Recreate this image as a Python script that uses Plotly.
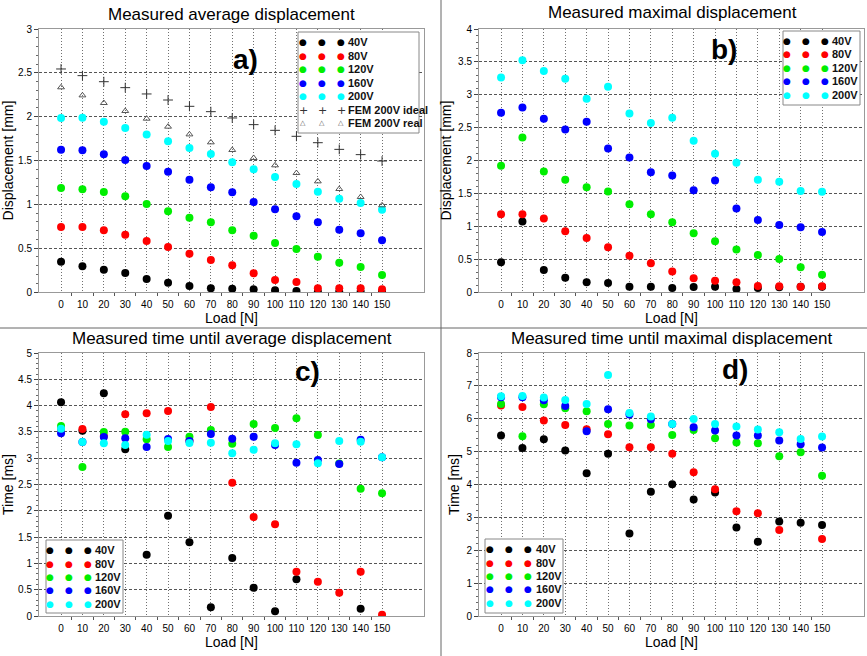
import plotly.graph_objects as go

W, H = 867, 656
load = [0, 10, 20, 30, 40, 50, 60, 70, 80, 90, 100, 110, 120, 130, 140, 150]
voltages = ["40V", "80V", "120V", "160V", "200V"]
colors = ["#000000", "#ff0000", "#00ee00", "#0000ff", "#00ffff"]

# a) Measured average displacement [mm]
avg_40 = [0.346, 0.293, 0.255, 0.217, 0.148, 0.106, 0.068, 0.042, 0.038, 0.030, 0.019, 0.011, 0.005, 0.004, 0.004, 0.004]
avg_80 = [0.741, 0.741, 0.703, 0.654, 0.582, 0.513, 0.437, 0.365, 0.304, 0.213, 0.137, 0.114, 0.042, 0.042, 0.042, 0.030]
avg_120 = [1.186, 1.171, 1.141, 1.091, 1.004, 0.920, 0.848, 0.795, 0.703, 0.643, 0.559, 0.490, 0.403, 0.335, 0.285, 0.194]
avg_160 = [1.624, 1.616, 1.570, 1.506, 1.437, 1.373, 1.281, 1.194, 1.137, 1.027, 0.943, 0.863, 0.795, 0.711, 0.669, 0.589]
avg_200 = [1.985, 1.989, 1.943, 1.871, 1.798, 1.719, 1.643, 1.574, 1.479, 1.399, 1.312, 1.232, 1.144, 1.065, 1.015, 0.939]
fem_ideal = [2.544, 2.468, 2.399, 2.331, 2.259, 2.190, 2.118, 2.057, 1.985, 1.909, 1.844, 1.776, 1.703, 1.627, 1.567, 1.494]
fem_real = [2.335, 2.243, 2.156, 2.065, 1.977, 1.886, 1.798, 1.707, 1.620, 1.529, 1.445, 1.357, 1.262, 1.175, 1.084, 0.989]

# b) Measured maximal displacement [mm]
max_40 = [0.452, 1.071, 0.335, 0.218, 0.147, 0.137, 0.081, 0.081, 0.061, 0.076, 0.081, 0.046, 0.061, 0.071, 0.081, 0.081]
max_80 = [1.183, 1.183, 1.117, 0.924, 0.822, 0.680, 0.553, 0.437, 0.310, 0.208, 0.173, 0.147, 0.091, 0.086, 0.081, 0.086]
max_120 = [1.919, 2.350, 1.832, 1.706, 1.594, 1.528, 1.335, 1.183, 1.061, 0.893, 0.772, 0.645, 0.563, 0.503, 0.376, 0.264]
max_160 = [2.726, 2.807, 2.635, 2.472, 2.589, 2.183, 2.046, 1.822, 1.772, 1.548, 1.695, 1.269, 1.096, 1.020, 0.985, 0.914]
max_200 = [3.264, 3.523, 3.360, 3.244, 2.939, 3.122, 2.716, 2.569, 2.650, 2.299, 2.102, 1.964, 1.706, 1.675, 1.538, 1.523]

# c) Measured time until average displacement [ms]
tavg_40 = [4.062, 3.523, 4.233, 3.169, 1.166, 1.907, 1.400, 0.165, 1.103, 0.539, 0.089, 0.697, None, None, 0.139, None]
tavg_80 = [3.560, 3.555, 3.420, 3.834, 3.853, 3.897, 3.330, 3.973, 2.535, 1.882, 1.743, 0.843, 0.653, 0.444, 0.843, 0.025]
tavg_120 = [3.612, 2.833, 3.498, 3.504, 3.359, 3.213, 3.409, 3.536, 3.276, 3.650, 3.574, 3.758, 3.441, 2.900, 2.421, 2.332]
tavg_160 = [3.473, 3.310, 3.403, 3.378, 3.213, 3.365, 3.327, 3.460, 3.371, 3.409, 3.251, 2.915, 2.966, 2.890, 3.352, 3.016]
tavg_200 = [3.561, 3.308, 3.283, 3.251, 3.447, 3.327, 3.289, 3.295, 3.093, 3.162, 3.283, 3.264, 2.902, 3.327, 3.314, 3.016]

# d) Measured time until maximal displacement [ms]
tmax_40 = [5.489, 5.114, 5.377, 5.033, 4.344, 4.932, 2.511, 3.777, 4.010, 3.544, 3.757, 2.694, 2.258, 2.876, 2.835, 2.765]
tmax_80 = [6.400, 6.359, 5.944, 5.813, 5.681, 5.529, 5.134, 5.134, 4.932, 4.375, 3.858, 3.190, 3.129, 2.613, None, 2.339]
tmax_120 = [6.451, 5.468, 6.441, 6.319, 6.228, 5.843, 5.792, 5.813, 5.509, 5.661, 5.408, 5.276, 5.256, 4.861, 4.982, 4.263]
tmax_160 = [6.653, 6.653, 6.562, 6.390, 5.620, 6.289, 6.127, 5.985, 5.840, 5.742, 5.641, 5.489, 5.489, 5.337, 5.225, 5.124]
tmax_200 = [6.684, 6.694, 6.643, 6.572, 6.451, 7.332, 6.177, 6.066, 5.843, 5.995, 5.843, 5.762, 5.671, 5.590, 5.387, 5.458]

titles = ["Measured average displacement", "Measured maximal displacement",
          "Measured time until average displacement", "Measured time until maximal displacement"]
panel_labels = ["a)", "b)", "c)", "d)"]
y_titles = ["Displacement [mm]", "Displacement [mm]", "Time [ms]", "Time [ms]"]
y_ranges = [[0, 3], [0, 4], [0, 5], [0, 8]]
y_dticks = [0.5, 0.5, 0.5, 1]
fem_names = ["FEM 200V ideal", "FEM 200V real"]

FONT = "Liberation Sans, Arial, sans-serif"

def px_x(p):
    return p / W

def px_y(p):
    return 1 - p / H

# panel placement (pixels)
xdom = [[39, 424], [479, 864], [39, 424], [479, 864]]
ydom = [[29, 292], [29, 292], [353, 616], [353, 616]]

fig = go.Figure()
series = [
    [avg_40, avg_80, avg_120, avg_160, avg_200],
    [max_40, max_80, max_120, max_160, max_200],
    [tavg_40, tavg_80, tavg_120, tavg_160, tavg_200],
    [tmax_40, tmax_80, tmax_120, tmax_160, tmax_200],
]

for i in range(4):
    xa = "x" if i == 0 else f"x{i+1}"
    ya = "y" if i == 0 else f"y{i+1}"
    for v, c, vals in zip(voltages, colors, series[i]):
        fig.add_trace(go.Scatter(x=load, y=vals, mode="markers", name=v, xaxis=xa, yaxis=ya,
                                 marker=dict(color=c, size=8, line=dict(width=0)), showlegend=False))
    if i == 0:
        fig.add_trace(go.Scatter(x=load, y=fem_ideal, mode="markers", name=fem_names[0], xaxis=xa, yaxis=ya,
                                 marker=dict(symbol="cross-thin-open", size=7, color="#333333",
                                             line=dict(color="#333333", width=1)),
                                 showlegend=False))
        fig.add_trace(go.Scatter(x=load, y=fem_real, mode="markers", name=fem_names[1], xaxis=xa, yaxis=ya,
                                 marker=dict(symbol="triangle-up-open", size=6, color="#555555",
                                             line=dict(color="#555555", width=1)),
                                 showlegend=False))

layout = dict(width=W, height=H, margin=dict(l=0, r=0, t=0, b=0), paper_bgcolor="white",
              plot_bgcolor="white", font=dict(family=FONT, color="black"), showlegend=False)

for i in range(4):
    xk = "xaxis" if i == 0 else f"xaxis{i+1}"
    yk = "yaxis" if i == 0 else f"yaxis{i+1}"
    ya = "y" if i == 0 else f"y{i+1}"
    xa = "x" if i == 0 else f"x{i+1}"
    layout[xk] = dict(domain=[px_x(xdom[i][0]), px_x(xdom[i][1])], anchor=ya, range=[-10.3, 169.6],
                      tickmode="array", tickvals=load, ticktext=[str(v) for v in load],
                      tickfont=dict(size=10), showgrid=True, gridcolor="#707070", griddash="1px,2px",
                      gridwidth=1, zeroline=False, showline=True, mirror=True, linecolor="#999999",
                      linewidth=1, ticks="", ticklabelstandoff=3,
                      minor=dict(tickmode="array", tickvals=[v + 5 for v in load[:-1]], ticks="outside",
                                 ticklen=3, tickcolor="#555555", showgrid=False),
                      title=dict(text="Load [N]", font=dict(size=14), standoff=2), automargin=False)
    layout[yk] = dict(domain=[px_y(ydom[i][1]), px_y(ydom[i][0])], anchor=xa, range=y_ranges[i],
                      dtick=y_dticks[i], tickfont=dict(size=10), showgrid=True, gridcolor="#555555",
                      griddash="3px,2px", gridwidth=1, zeroline=False, showline=True, mirror=True,
                      linecolor="#999999", linewidth=1, ticks="outside", ticklen=4, tickcolor="#444444",
                      minor=dict(ticks="outside", ticklen=2, tickcolor="#666666", nticks=5, showgrid=False),
                      title=dict(text=y_titles[i], font=dict(size=14), standoff=3), automargin=False)

annotations = []
title_pos = [(232, 14), (672, 13), (232, 338), (672, 338)]
for t, (x, y) in zip(titles, title_pos):
    annotations.append(dict(text=t, x=px_x(x), y=px_y(y), xref="paper", yref="paper", showarrow=False,
                            xanchor="center", yanchor="middle", font=dict(size=17, color="black")))
lab_pos = [(245, 59), (724, 50), (307, 372), (735, 369)]
for t, (x, y) in zip(panel_labels, lab_pos):
    annotations.append(dict(text=f"<b>{t}</b>", x=px_x(x), y=px_y(y), xref="paper", yref="paper",
                            showarrow=False, xanchor="center", yanchor="middle",
                            font=dict(size=28, color="black", family="Liberation Sans, Arial")))

shapes = []
# custom legends: box (l, t, r, b), row y's, dot columns, label x
legends = [
    dict(box=(298, 32, 419, 133), rows=[42, 56, 69, 83, 96, 110, 123], dots=[303, 322, 341], lab=346, fem=True),
    dict(box=(783, 31, 860, 105), rows=[41, 54, 68, 81, 95], dots=[787, 806, 825], lab=830, fem=False),
    dict(box=(46, 540, 123, 613), rows=[550, 564, 577, 590, 604], dots=[50, 69, 88], lab=93, fem=False),
    dict(box=(485, 539, 563, 613), rows=[549, 563, 576, 589, 603], dots=[490, 509, 528], lab=534, fem=False),
]
for lg in legends:
    l, t, r, b = lg["box"]
    shapes.append(dict(type="rect", xref="paper", yref="paper", x0=px_x(l), x1=px_x(r), y0=px_y(b), y1=px_y(t),
                       line=dict(color="#888888", width=1), fillcolor="white", layer="above"))
    entries = [(v, c, "●", 9) for v, c in zip(voltages, colors)]
    if lg["fem"]:
        entries += [(fem_names[0], "#333333", "+", 11), (fem_names[1], "#555555", "△", 7)]
    for (name, col, glyph, gs), ry in zip(entries, lg["rows"]):
        for dx in lg["dots"]:
            annotations.append(dict(text=glyph, x=px_x(dx), y=px_y(ry), xref="paper", yref="paper",
                                    showarrow=False, xanchor="center", yanchor="middle",
                                    font=dict(size=gs, color=col, family="DejaVu Sans")))
        annotations.append(dict(text=f"<b>{name}</b>", x=px_x(lg["lab"]), y=px_y(ry), xref="paper", yref="paper",
                                showarrow=False, xanchor="left", yanchor="middle",
                                font=dict(size=11, color="#111111")))

# separator lines between the four images
shapes.append(dict(type="line", xref="paper", yref="paper", x0=px_x(441), x1=px_x(441), y0=0, y1=1,
                   line=dict(color="#666666", width=1)))
shapes.append(dict(type="line", xref="paper", yref="paper", x0=0, x1=1, y0=px_y(328), y1=px_y(328),
                   line=dict(color="#666666", width=1)))

layout["annotations"] = annotations
layout["shapes"] = shapes
fig.update_layout(**layout)
fig.write_html("out.html")
